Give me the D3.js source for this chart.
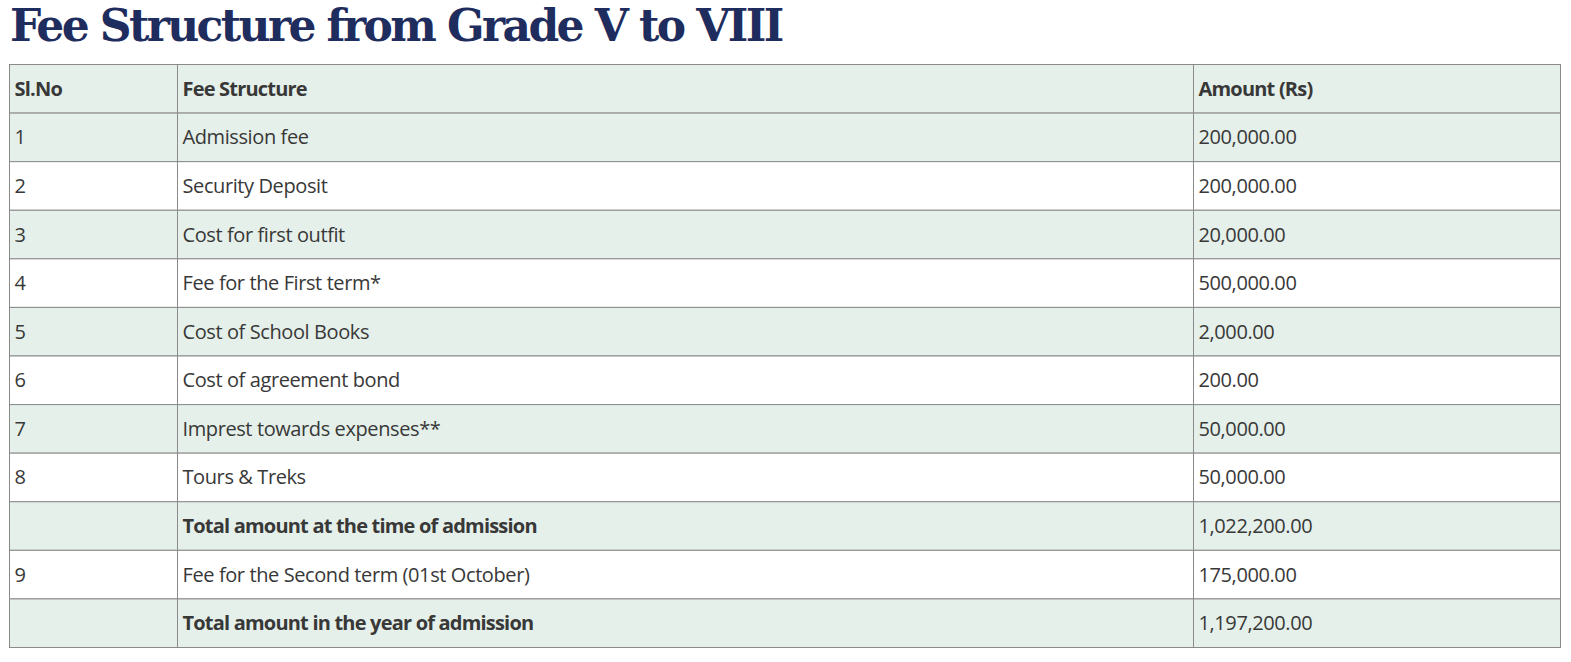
<!DOCTYPE html>
<html><head><meta charset="utf-8">
<script src="https://cdn.jsdelivr.net/npm/d3@7"></script>
<style>body{margin:0;background:#fff}</style></head>
<body><svg id="c" width="1571" height="662"></svg>
<script>
const title = "Fee Structure from Grade V to VIII";
const headers = ["Sl.No", "Fee Structure", "Amount (Rs)"];
const slNos = ["1","2","3","4","5","6","7","8","","9",""];
const items = ["Admission fee","Security Deposit","Cost for first outfit","Fee for the First term*","Cost of School Books","Cost of agreement bond","Imprest towards expenses**","Tours & Treks","Total amount at the time of admission","Fee for the Second term (01st October)","Total amount in the year of admission"];
const amounts = ["200,000.00","200,000.00","20,000.00","500,000.00","2,000.00","200.00","50,000.00","50,000.00","1,022,200.00","175,000.00","1,197,200.00"];
const boldRows = [8, 10];

const svg = d3.select("#c");
svg.append("text").attr("x", 10).attr("y", 41).text(title)
  .attr("font-family", "DejaVu Serif").attr("font-weight", "bold").attr("font-size", 44)
  .attr("fill", "#1f2d5e").attr("letter-spacing", -2.6);

const rows = [headers].concat(slNos.map((s, i) => [s, items[i], amounts[i]]));
const y = d3.scaleBand().domain(d3.range(rows.length)).range([64.5, 647.5]);
const colEdges = [9.5, 177.5, 1193.5, 1560.5];
const g = svg.append("g");
rows.forEach((r, i) => {
  g.append("rect").attr("x", colEdges[0]).attr("y", y(i)).attr("width", colEdges[3] - colEdges[0])
    .attr("height", y.bandwidth()).attr("fill", (i === 0 || i % 2 === 1) ? "#e5f0ea" : "#ffffff")
    .attr("stroke", "#8a8a8a").attr("stroke-width", 1);
  r.forEach((t, j) => {
    const bold = i === 0 || (j === 1 && boldRows.includes(i - 1));
    g.append("text").attr("x", colEdges[j] + 5).attr("y", y(i) + y.bandwidth() / 2 + 7)
      .text(t).attr("font-family", "Open Sans").attr("font-size", 20)
      .attr("font-weight", bold ? "bold" : "normal").attr("letter-spacing", bold ? -0.8 : -0.4)
      .attr("fill", "#383838");
  });
});
colEdges.slice(1, 3).forEach(x => g.append("line").attr("x1", x).attr("x2", x)
  .attr("y1", y.range()[0]).attr("y2", y.range()[1]).attr("stroke", "#8a8a8a"));
</script></body></html>
